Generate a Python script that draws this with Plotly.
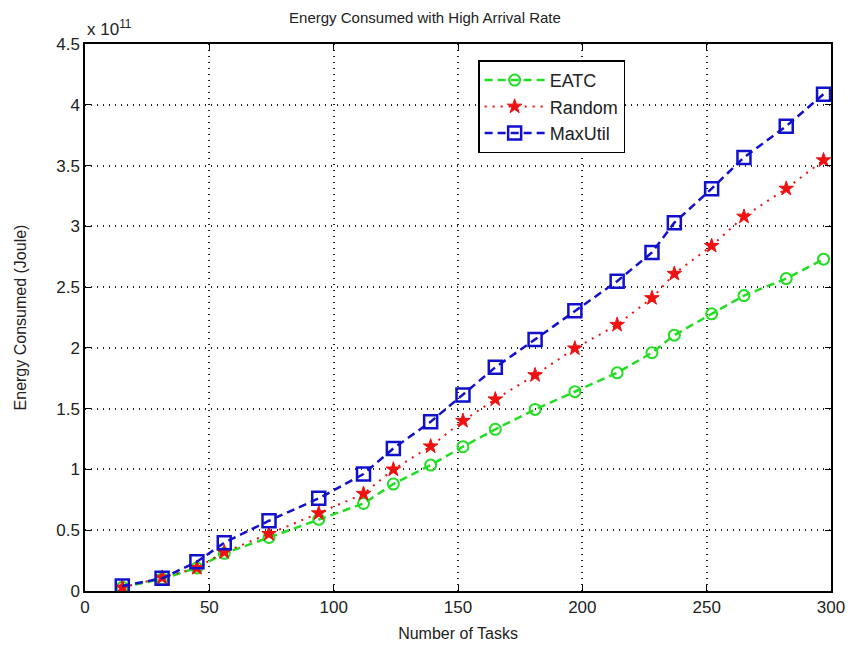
import plotly.graph_objects as go

# Number of tasks (x) per point
tasks = [15, 31, 45, 56, 74, 94, 112, 124, 139, 152, 165, 181, 197, 214, 228, 237, 252, 265, 282, 297]
# Energy consumed, in units of 1e11 Joule
eatc = [0.03, 0.10, 0.19, 0.31, 0.44, 0.59, 0.72, 0.88, 1.036, 1.187, 1.33, 1.494, 1.64, 1.795, 1.96, 2.105, 2.28, 2.43, 2.57, 2.73]
random_ = [0.03, 0.11, 0.19, 0.32, 0.47, 0.64, 0.80, 1.00, 1.19, 1.40, 1.577, 1.776, 1.996, 2.19, 2.41, 2.61, 2.84, 3.08, 3.31, 3.544]
maxutil = [0.041, 0.104, 0.241, 0.397, 0.578, 0.762, 0.962, 1.173, 1.392, 1.612, 1.84, 2.07, 2.305, 2.549, 2.785, 3.03, 3.31, 3.567, 3.824, 4.087]

x_ticks = [0, 50, 100, 150, 200, 250, 300]
y_ticks = [0, 0.5, 1, 1.5, 2, 2.5, 3, 3.5, 4, 4.5]
y_tick_text = ["0", "0.5", "1", "1.5", "2", "2.5", "3", "3.5", "4", "4.5"]

FONT = "Liberation Sans, Arial, sans-serif"

fig = go.Figure()
fig.add_trace(go.Scatter(
    x=tasks, y=eatc, name="EATC", mode="lines+markers",
    line=dict(color="#22dd22", width=2.5, dash="8px,5px"),
    marker=dict(symbol="circle-open", size=11, color="#22dd22", line=dict(width=2)),
))
fig.add_trace(go.Scatter(
    x=tasks, y=random_, name="Random", mode="lines+markers",
    line=dict(color="#ee1111", width=2, dash="2px,6px"),
    marker=dict(symbol="star", size=11, color="#ee1111", line=dict(width=1, color="#ee1111")),
))
fig.add_trace(go.Scatter(
    x=tasks, y=maxutil, name="MaxUtil", mode="lines+markers",
    line=dict(color="#1111cc", width=2.5, dash="8px,5px"),
    marker=dict(symbol="square-open", size=13, color="#1111cc", line=dict(width=2.5)),
))

axis_common = dict(
    showgrid=True, gridcolor="#222", griddash="1px,5px", gridwidth=1.5,
    showline=True, linecolor="black", linewidth=1.5, mirror="ticks",
    ticks="inside", ticklen=6, tickcolor="black",
    zeroline=False, automargin=False,
    tickfont=dict(family=FONT, size=17, color="#222"),
)

fig.update_layout(
    width=850, height=651,
    paper_bgcolor="white", plot_bgcolor="white",
    margin=dict(l=85, r=19, t=44, b=60),
    title=dict(text="Energy Consumed with High Arrival Rate", x=0.5, xanchor="center",
               y=0.972, yanchor="middle",
               font=dict(family=FONT, size=15, color="#222")),
    xaxis=dict(range=[0, 300], tickvals=x_ticks, title=dict(text="Number of Tasks", standoff=12,
               font=dict(family=FONT, size=16, color="#222")), **axis_common),
    yaxis=dict(range=[0, 4.5], tickvals=y_ticks, ticktext=y_tick_text,
               title=dict(text="Energy Consumed (Joule)", standoff=26,
                          font=dict(family=FONT, size=16, color="#222")), **axis_common),
    legend=dict(x=0.527, y=0.97, xanchor="left", yanchor="top",
                bgcolor="white", bordercolor="black", borderwidth=1.5,
                font=dict(family=FONT, size=18, color="#222"),
                itemwidth=60),
    showlegend=True,
)

fig.add_annotation(
    text="x 10<sup>11</sup>", xref="paper", yref="paper", x=0.0, y=1.0,
    xanchor="left", yanchor="bottom", showarrow=False, yshift=3,
    font=dict(family=FONT, size=17, color="#222"),
)

fig.write_html(
    "out.html",
    config={"displayModeBar": False},
    post_script="document.body.style.margin='0';document.body.style.overflow='hidden';",
)
